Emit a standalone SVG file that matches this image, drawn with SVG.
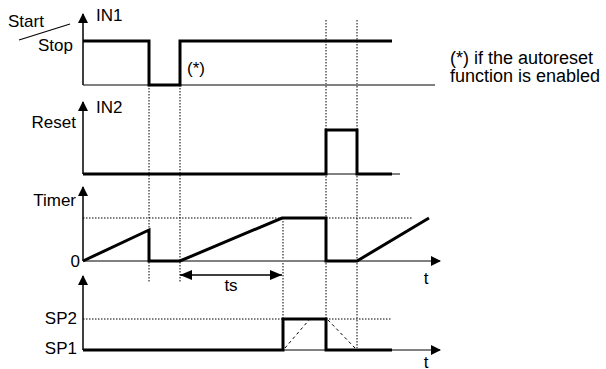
<svg xmlns="http://www.w3.org/2000/svg" width="606" height="369" viewBox="0 0 606 369">
<style>
text{font-family:"Liberation Sans",Arial,sans-serif;font-size:17px;fill:#000}
.note{font-size:18px}
.ax{stroke:#000;stroke-width:1.5;fill:none}
.base{stroke:#808080;stroke-width:2;fill:none}
.sig{stroke:#000;stroke-width:3;fill:none;stroke-linejoin:miter}
.dot{stroke:#000;stroke-width:1;stroke-dasharray:1.5,1.5;fill:none}
.dash{stroke:#000;stroke-width:1;stroke-dasharray:3,3;fill:none}
</style>
<defs>
<marker id="ah" markerWidth="10" markerHeight="10" refX="9" refY="5" orient="auto" markerUnits="userSpaceOnUse">
<path d="M0,0 L10,5 L0,10 Z" fill="#000"/>
</marker>
<marker id="ahs" markerWidth="12" markerHeight="10" refX="12" refY="5" orient="auto-start-reverse" markerUnits="userSpaceOnUse">
<path d="M0,0 L12,5 L0,10 Z" fill="#000"/>
</marker>
</defs>
<g id="connectors">
<path class="dot" d="M149,85 V283 M180,85 V283 M326,20 V318 M357,20 V348 M283,218 V318"/>
<path class="dot" d="M83,218 H413 M83,319 H392"/>
<path class="dash" d="M285,348 L309,320 M328,320 L355,348"/>
<line x1="180" y1="275" x2="282" y2="275" stroke="#000" stroke-width="1.5" marker-start="url(#ahs)" marker-end="url(#ahs)"/>
</g>
<g id="in1">
<line class="base" x1="83" y1="85" x2="435" y2="85"/>
<line class="ax" x1="83" y1="85" x2="83" y2="14" marker-end="url(#ah)"/>
<polyline class="sig" points="83,41 149,41 149,85 180,85 180,41 392,41"/>
<text x="96" y="21">IN1</text>
<text x="8" y="27">Start</text>
<line x1="19" y1="40" x2="70" y2="24" stroke="#000" stroke-width="1.2"/>
<text x="73" y="51" text-anchor="end">Stop</text>
<text x="187" y="74">(*)</text>
</g>
<g id="in2">
<line class="base" x1="83" y1="174" x2="400" y2="174"/>
<line class="ax" x1="83" y1="174" x2="83" y2="102" marker-end="url(#ah)"/>
<polyline class="sig" points="83,174 326,174 326,130 357,130 357,174 392,174"/>
<text x="96" y="113">IN2</text>
<text x="76" y="128" text-anchor="end">Reset</text>
</g>
<g id="timer">
<line class="base" x1="83" y1="261" x2="440" y2="261" marker-end="url(#ah)"/>
<line class="ax" x1="83" y1="261" x2="83" y2="187" marker-end="url(#ah)"/>
<polyline class="sig" points="83,261 149,230 149,261 180,261 282,218 326,218 326,261 357,261 429,218"/>
<text x="76" y="206" text-anchor="end">Timer</text>
<text x="80" y="267" text-anchor="end">0</text>
<text x="426" y="284" text-anchor="middle">t</text>
<text x="231" y="291" text-anchor="middle">ts</text>
</g>
<g id="sp">
<line class="base" x1="83" y1="350" x2="440" y2="350" marker-end="url(#ah)"/>
<line class="ax" x1="83" y1="350" x2="83" y2="276" marker-end="url(#ah)"/>
<polyline class="sig" points="83,350 283,350 283,319 326,319 326,350 392,350"/>
<text x="77" y="324" text-anchor="end">SP2</text>
<text x="77" y="354" text-anchor="end">SP1</text>
<text x="426" y="368" text-anchor="middle">t</text>
</g>
<g id="note">
<text class="note" x="450" y="64">(*) if the autoreset</text>
<text class="note" x="450" y="82">function is enabled</text>
</g>
</svg>
